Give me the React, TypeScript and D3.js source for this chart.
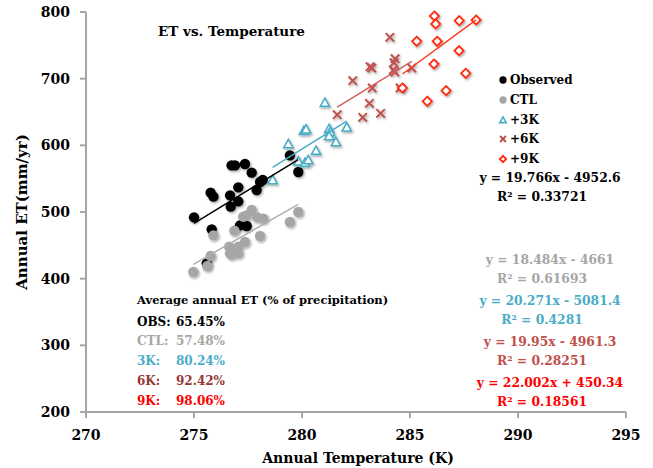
import React from "react";
import * as d3 from "d3";

// values
const obsT = [275.0, 275.77, 275.9, 275.82, 276.74, 276.9, 277.36, 277.67, 276.67, 277.05, 276.7, 277.05, 277.9, 278.06, 278.18, 279.44, 279.83, 277.13, 277.44, 275.59];
const obsET = [492, 529, 523, 474, 570, 570, 572, 559, 525, 537, 508, 516, 533, 545, 548, 585, 560, 480, 479, 423];

const ctlT = [274.97, 275.62, 275.77, 275.9, 276.87, 276.63, 276.74, 277.05, 277.36, 277.05, 277.44, 277.67, 277.93, 278.21, 278.06, 279.44, 279.83, 277.28, 276.67];
const ctlET = [410, 419, 434, 465, 472, 448, 436, 448, 455, 438, 495, 503, 492, 490, 464, 485, 500, 493, 438];

const k3T = [281.06, 280.09, 280.19, 279.37, 280.65, 281.26, 281.3, 281.26, 281.57, 282.07, 279.83, 280.14, 280.29, 278.64];
const k3ET = [664, 622, 624, 602, 592, 625, 620, 614, 605, 627, 576, 574, 578, 548];

const k6T = [284.07, 284.31, 284.26, 283.15, 283.23, 284.23, 284.3, 285.08, 282.35, 283.25, 284.54, 283.12, 281.63, 282.81, 283.64];
const k6ET = [762, 730, 724, 718, 716, 713, 710, 716, 697, 686, 686, 663, 646, 642, 648];

const k9T = [286.13, 286.19, 287.28, 288.06, 285.31, 286.26, 287.27, 286.11, 287.58, 284.65, 286.67, 285.8];
const k9ET = [794, 782, 787, 788, 756, 756, 742, 722, 708, 686, 682, 666];

// trendlines (slope, intercept)
const trendSlope = [19.766, 18.484, 20.271, 19.95, 23.8];
const trendIntercept = [-4952.6, -4661, -5081.4, -4961.3, -6067.7];

const seriesNames = ["Observed", "CTL", "+3K", "+6K", "+9K"];
const eqLabels = ["y = 19.766x - 4952.6", "y = 18.484x - 4661", "y = 20.271x - 5081.4", "y = 19.95x - 4961.3", "y = 22.002x + 450.34"];
const r2Labels = ["R\u00b2 = 0.33721", "R\u00b2 = 0.61693", "R\u00b2 = 0.4281", "R\u00b2 = 0.28251", "R\u00b2 = 0.18561"];
const avgLabels = ["OBS:", "CTL:", "3K:", "6K:", "9K:"];
const avgValues = ["65.45%", "57.48%", "80.24%", "92.42%", "98.06%"];

const xTicks = [270, 275, 280, 285, 290, 295];
const yTicks = [200, 300, 400, 500, 600, 700, 800];

const markerColor = ["#000000", "#a6a6a6", "#4bacc6", "#c0504d", "#ff2a0a"];
const lineColor = ["#000000", "#b0b0b0", "#4bacc6", "#d0605c", "#ff3b1f"];
const eqColor = ["#000000", "#a6a6a6", "#4bacc6", "#c0504d", "#ff0000"];
const avgColor = ["#000000", "#a6a6a6", "#4bacc6", "#953735", "#ff0000"];

const W = 653;
const H = 468;
const FONT = "'DejaVu Serif', 'Liberation Serif', serif";

const x = d3.scaleLinear().domain([270, 295]).range([86, 626]);
const y = d3.scaleLinear().domain([200, 800]).range([412, 12]);

const Marker = ({ kind, cx, cy, s = 1 }: { kind: number; cx: number; cy: number; s?: number }) => {
  const c = markerColor[kind];
  if (kind <= 1) return <circle cx={cx} cy={cy} r={5.2 * s} fill={c} />;
  if (kind === 2) {
    const h = 4.6 * s;
    return (
      <path
        d={`M${cx},${cy - h}L${cx + h},${cy + h * 0.8}L${cx - h},${cy + h * 0.8}Z`}
        fill="white"
        stroke={c}
        strokeWidth={1.6}
      />
    );
  }
  if (kind === 3) {
    const h = 4.2 * s;
    return (
      <path
        d={`M${cx - h},${cy - h}L${cx + h},${cy + h}M${cx + h},${cy - h}L${cx - h},${cy + h}`}
        stroke={c}
        strokeWidth={2}
      />
    );
  }
  const h = 4.6 * s;
  return (
    <path
      d={`M${cx},${cy - h}L${cx + h},${cy}L${cx},${cy + h}L${cx - h},${cy}Z`}
      fill="white"
      stroke={c}
      strokeWidth={1.8}
    />
  );
};

const App = () => {
  const allT = [obsT, ctlT, k3T, k6T, k9T];
  const allET = [obsET, ctlET, k3ET, k6ET, k9ET];
  const eqY = [177, 259, 300, 341, 382];
  const legendY = [80, 100, 120, 139, 159];
  const avgY = [322, 341, 361, 381, 401];

  return (
    <svg width={W} height={H} style={{ position: "absolute", left: 0, top: 0, background: "white" }} fontFamily={FONT}>
      <defs>
        <filter id="shadow" x="-50%" y="-50%" width="200%" height="200%">
          <feDropShadow dx="1.2" dy="1.5" stdDeviation="1" floodColor="#000" floodOpacity="0.35" />
        </filter>
      </defs>

      {/* axes */}
      <g stroke="#a6a6a6" strokeWidth={2} fill="none">
        <line x1={86} x2={86} y1={y(800)} y2={412} />
        <line x1={86} x2={626} y1={412} y2={412} />
        {yTicks.map((t) => (
          <line key={t} x1={80} x2={86} y1={y(t)} y2={y(t)} />
        ))}
        {xTicks.map((t) => (
          <line key={t} x1={x(t)} x2={x(t)} y1={412} y2={418} />
        ))}
      </g>
      <g fontWeight="bold" fontSize={14} fill="#000">
        {yTicks.map((t) => (
          <text key={t} x={70} y={y(t)} textAnchor="end" dominantBaseline="central">
            {t}
          </text>
        ))}
        {xTicks.map((t) => (
          <text key={t} x={x(t)} y={435} textAnchor="middle" dominantBaseline="central">
            {t}
          </text>
        ))}
      </g>
      <text x={358} y={458} textAnchor="middle" dominantBaseline="central" fontWeight="bold" fontSize={14}>
        Annual Temperature (K)
      </text>
      <text
        transform="translate(22,212) rotate(-90)"
        textAnchor="middle"
        dominantBaseline="central"
        fontWeight="bold"
        fontSize={15}
      >
        Annual ET(mm/yr)
      </text>

      <text x={158} y={31} dominantBaseline="central" fontWeight="bold" fontSize={13.5}>
        ET vs. Temperature
      </text>

      {/* points */}
      {allT.map((ts, k) => (
        <g key={k} filter="url(#shadow)">
          {ts.map((t, i) => (
            <Marker key={i} kind={k} cx={x(t)} cy={y(allET[k][i])} />
          ))}
        </g>
      ))}

      {/* trendlines */}
      {allT.map((ts, k) => {
        const [lo, hi] = d3.extent(ts) as [number, number];
        const f = (t: number) => trendSlope[k] * t + trendIntercept[k];
        return (
          <line
            key={k}
            x1={x(lo)}
            y1={y(f(lo))}
            x2={x(hi)}
            y2={y(f(hi))}
            stroke={lineColor[k]}
            strokeWidth={1.5}
          />
        );
      })}

      {/* legend */}
      {seriesNames.map((n, k) => (
        <g key={n}>
          <Marker kind={k} cx={503} cy={legendY[k]} s={0.7} />
          <text x={510} y={legendY[k]} dominantBaseline="central" fontWeight="bold" fontSize={12}>
            {n}
          </text>
        </g>
      ))}

      {/* equations */}
      {eqLabels.map((e, k) => (
        <g key={e} fontWeight="bold" fontSize={12.3} fill={eqColor[k]}>
          <text x={550} y={eqY[k]} textAnchor="middle" dominantBaseline="central">
            {e}
          </text>
          <text x={542} y={eqY[k] + 19} textAnchor="middle" dominantBaseline="central">
            {r2Labels[k]}
          </text>
        </g>
      ))}

      {/* average annual ET box */}
      <text x={137} y={300} dominantBaseline="central" fontWeight="bold" fontSize={11.5}>
        Average annual ET (% of precipitation)
      </text>
      {avgLabels.map((l, k) => (
        <g key={l} fontWeight="bold" fontSize={12} fill={avgColor[k]}>
          <text x={137} y={avgY[k]} dominantBaseline="central">
            {l}
          </text>
          <text x={176} y={avgY[k]} dominantBaseline="central">
            {avgValues[k]}
          </text>
        </g>
      ))}
    </svg>
  );
};

export default App;
